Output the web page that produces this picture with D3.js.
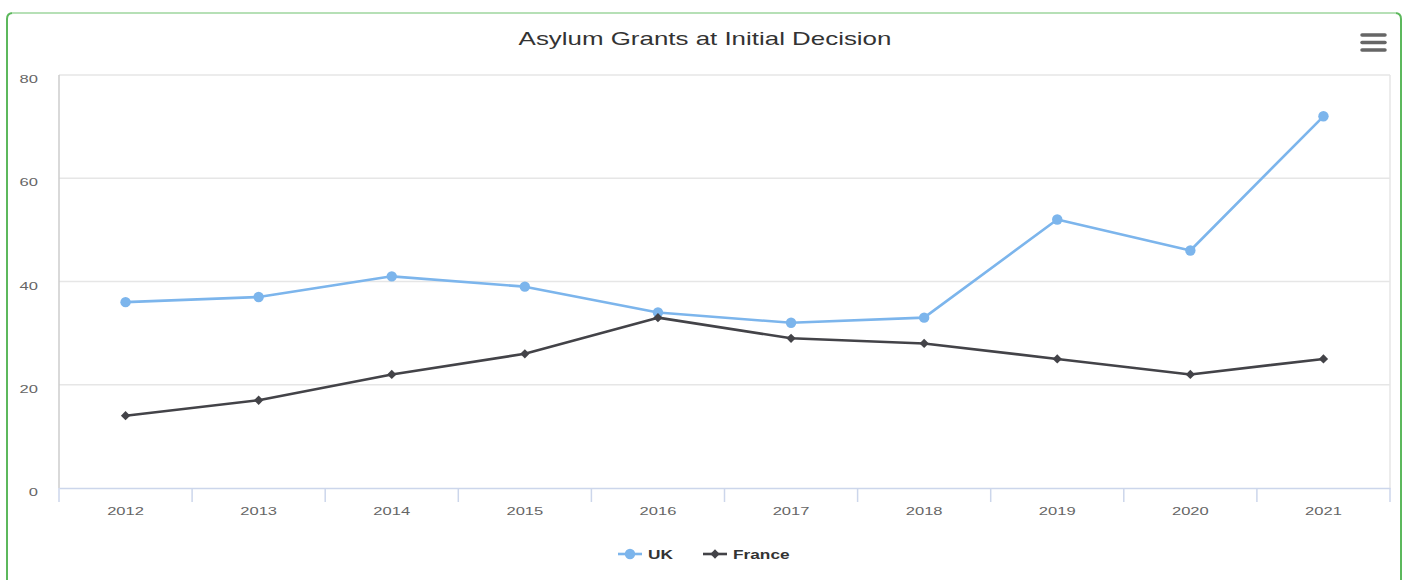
<!DOCTYPE html>
<html>
<head>
<meta charset="utf-8">
<script src="https://cdn.jsdelivr.net/npm/d3@7/dist/d3.min.js"></script>
<style>
  html, body { margin: 0; padding: 0; background: #fff; }
  svg { display: block; font-family: "Liberation Sans", Arial, sans-serif; }
</style>
</head>
<body>
<svg id="chart" width="1406" height="580"></svg>
<script>
// Asylum grants at initial decision, by year
const years = ["2012", "2013", "2014", "2015", "2016", "2017", "2018", "2019", "2020", "2021"];
const ukValues = [36, 37, 41, 39, 34, 32, 33, 52, 46, 72];
const franceValues = [14, 17, 22, 26, 33, 29, 28, 25, 22, 25];
const yTicks = [0, 20, 40, 60, 80];
const seriesNames = ["UK", "France"];

const W = 1406, H = 580;
const margin = { left: 59, right: 16, top: 75, bottom: 92 };
const plotL = margin.left, plotR = W - margin.right, plotT = margin.top, plotB = H - margin.bottom;
// text is drawn wide: glyphs are stretched horizontally
const stretch = 1.44;

const svg = d3.select("#chart");

// places a horizontally stretched text label
function label(parent, x0, y0, str, opts) {
  return parent.append("text")
    .attr("transform", `translate(${x0},${y0}) scale(${stretch},1)`)
    .attr("text-anchor", opts.anchor || "start")
    .attr("font-size", opts.size)
    .attr("font-weight", opts.weight || "normal")
    .attr("fill", opts.color)
    .text(str);
}

// container card with a green rounded border
const card = svg.append("g");
card.append("path")
  .attr("d", `M7,580 L7,19 Q7,13 13,13 L1395,13 Q1401,13 1401,19 L1401,580`)
  .attr("fill", "none").attr("stroke", "#5cb85c").attr("stroke-width", 2);
card.append("line")
  .attr("x1", 12).attr("x2", 1396).attr("y1", 13).attr("y2", 13)
  .attr("stroke", "#b6e0b6").attr("stroke-width", 2.2);

const x = d3.scaleBand().domain(years).range([plotL, plotR]);
const y = d3.scaleLinear().domain([0, 80]).range([plotB, plotT]);

// horizontal grid
svg.append("g").selectAll("line").data(yTicks.filter(d => d > 0)).join("line")
  .attr("x1", plotL).attr("x2", plotR)
  .attr("y1", d => y(d)).attr("y2", d => y(d))
  .attr("stroke", "#e6e6e6").attr("stroke-width", 1.5);

// plot frame sides
svg.append("line").attr("x1", plotL).attr("x2", plotL).attr("y1", plotT).attr("y2", plotB)
  .attr("stroke", "#cccccc").attr("stroke-width", 1.5);
svg.append("line").attr("x1", plotR).attr("x2", plotR).attr("y1", plotT).attr("y2", plotB)
  .attr("stroke", "#e6e6e6").attr("stroke-width", 1.5);

// y-axis labels
const gy = svg.append("g");
yTicks.forEach(d => label(gy, 38, y(d) + 8, d, { anchor: "end", size: 11.5, color: "#666666" }));

// x axis with ticks between categories
const xAxis = d3.axisBottom(x).tickSize(0).tickFormat("");
const gx = svg.append("g").attr("transform", `translate(0,${plotB})`).call(xAxis);
gx.select(".domain").attr("stroke", "#ccd6eb").attr("stroke-width", 1.5);
const bounds = years.map(d => x(d)).concat([x(years[years.length - 1]) + x.bandwidth()]);
gx.append("g").selectAll("line").data(bounds).join("line")
  .attr("x1", d => d).attr("x2", d => d).attr("y1", 0).attr("y2", 14)
  .attr("stroke", "#ccd6eb").attr("stroke-width", 1.5);
const cx = d => x(d) + x.bandwidth() / 2;
years.forEach(yr => label(gx, cx(yr), 27, yr, { anchor: "middle", size: 11.5, color: "#666666" }));

const line = d3.line().x(d => cx(d[0])).y(d => y(d[1]));

const series = [
  { name: seriesNames[0], values: ukValues, color: "#7cb5ec", symbol: d3.symbolCircle, size: 85 },
  { name: seriesNames[1], values: franceValues, color: "#434348", symbol: d3.symbolDiamond2, size: 55 }
];

series.forEach(s => {
  const pts = years.map((yr, i) => [yr, s.values[i]]);
  svg.append("path").datum(pts)
    .attr("d", line).attr("fill", "none")
    .attr("stroke", s.color).attr("stroke-width", 2.6)
    .attr("stroke-linejoin", "round").attr("stroke-linecap", "round");
  svg.append("g").selectAll("path").data(pts).join("path")
    .attr("transform", d => `translate(${cx(d[0])},${y(d[1])})`)
    .attr("d", d3.symbol().type(s.symbol).size(s.size))
    .attr("fill", s.color);
});

// title
label(svg, 705, 45, "Asylum Grants at Initial Decision", { anchor: "middle", size: 18, color: "#333333" });

// export menu icon
svg.append("g").selectAll("line").data([35, 42.5, 50]).join("line")
  .attr("x1", 1362).attr("x2", 1385).attr("y1", d => d).attr("y2", d => d)
  .attr("stroke", "#666666").attr("stroke-width", 3.5).attr("stroke-linecap", "round");

// legend
const legendItems = [
  { s: series[0], x0: 618 },
  { s: series[1], x0: 703 }
];
const lg = svg.append("g").attr("transform", "translate(0,554)");
legendItems.forEach(({ s, x0 }) => {
  lg.append("line").attr("x1", x0).attr("x2", x0 + 24).attr("y1", 0).attr("y2", 0)
    .attr("stroke", s.color).attr("stroke-width", 2.6);
  lg.append("path").attr("transform", `translate(${x0 + 12},0)`)
    .attr("d", d3.symbol().type(s.symbol).size(s.size)).attr("fill", s.color);
  label(lg, x0 + 30, 5, s.name, { size: 12, weight: "bold", color: "#333333" });
});
</script>
</body>
</html>
